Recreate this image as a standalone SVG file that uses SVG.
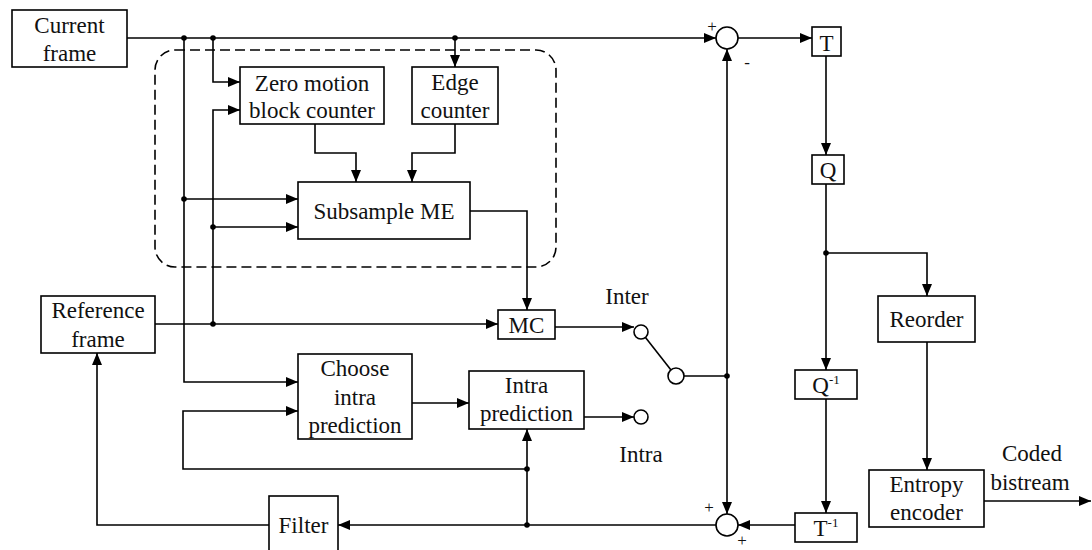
<svg xmlns="http://www.w3.org/2000/svg" width="1092" height="550" viewBox="0 0 1092 550" font-family="'Liberation Serif', 'Times New Roman', serif">
<defs>
<marker id="ah" markerUnits="userSpaceOnUse" markerWidth="14" markerHeight="10" refX="12" refY="5" orient="auto">
<path d="M0,0 L12,5 L0,10 Z" fill="#000"/>
</marker>
<style>
.box{fill:#fff;stroke:#000;stroke-width:1.6}
.c{fill:none;stroke:#000;stroke-width:1.6;marker-end:url(#ah)}
.l{fill:none;stroke:#000;stroke-width:1.6}
.dot{fill:#000}
.cir{fill:#fff;stroke:#000;stroke-width:1.6}
text{font-size:23px;fill:#111;text-anchor:middle}
.sg{font-size:17px}
.sup{font-size:13px}
.dash{fill:none;stroke:#000;stroke-width:1.6;stroke-dasharray:10,5}
</style>
</defs>
<rect width="1092" height="550" fill="#fff"/>
<rect class="dash" x="155" y="50" width="401" height="217" rx="20" ry="20"/>
<g id="connectors">
<path class="c" d="M127,38 H716"/>
<path class="c" d="M213,38 V82 H240"/>
<path class="c" d="M455,38 V67"/>
<path class="c" d="M184,38 V382 H298"/>
<path class="c" d="M184,199 H298"/>
<path class="c" d="M213,324 V110 H240"/>
<path class="c" d="M213,227 H298"/>
<path class="c" d="M155,324 H498"/>
<path class="c" d="M315,124 V153 H356 V182"/>
<path class="c" d="M455,124 V153 H412 V182"/>
<path class="c" d="M470,211 H527 V310"/>
<path class="c" d="M555,327 H634"/>
<path class="l" d="M645.5,337.5 L671,370"/>
<path class="l" d="M684,376 H727"/>
<path class="c" d="M727,376 V49"/>
<path class="c" d="M727,376 V514"/>
<path class="c" d="M738,38 H812"/>
<path class="c" d="M826,56 V155"/>
<path class="c" d="M826,184 V370"/>
<path class="c" d="M826,253 H927 V296"/>
<path class="c" d="M927,342 V470"/>
<path class="c" d="M984,501 H1091"/>
<path class="c" d="M826,399 V513"/>
<path class="c" d="M795,525 H738"/>
<path class="c" d="M716,525 H338"/>
<path class="c" d="M527,525 V429"/>
<path class="c" d="M527,469 H183 V411 H298"/>
<path class="c" d="M412,403 H469"/>
<path class="c" d="M584,417 H634"/>
<path class="c" d="M269,525 H97 V353"/>
<circle class="dot" cx="184" cy="38" r="2.8"/>
<circle class="dot" cx="213" cy="38" r="2.8"/>
<circle class="dot" cx="455" cy="38" r="2.8"/>
<circle class="dot" cx="184" cy="199" r="2.8"/>
<circle class="dot" cx="213" cy="227" r="2.8"/>
<circle class="dot" cx="213" cy="324" r="2.8"/>
<circle class="dot" cx="727" cy="376" r="2.8"/>
<circle class="dot" cx="826" cy="253" r="2.8"/>
<circle class="dot" cx="527" cy="525" r="2.8"/>
<circle class="dot" cx="527" cy="469" r="2.8"/>
</g>
<g id="current-frame"><rect class="box" x="12" y="10" width="115" height="57"/><text x="69.5" y="33">Current</text><text x="69.5" y="61">frame</text></g>
<g id="zero-motion"><rect class="box" x="240" y="67" width="144" height="57"/><text x="312" y="91">Zero motion</text><text x="312" y="118">block counter</text></g>
<g id="edge-counter"><rect class="box" x="412" y="67" width="86" height="57"/><text x="455" y="90">Edge</text><text x="455" y="118">counter</text></g>
<g id="subsample-me"><rect class="box" x="298" y="182" width="172" height="57"/><text x="384" y="219">Subsample ME</text></g>
<g id="reference-frame"><rect class="box" x="41" y="296" width="114" height="57"/><text x="98" y="318">Reference</text><text x="98" y="347">frame</text></g>
<g id="mc"><rect class="box" x="498" y="310" width="57" height="29"/><text x="526.5" y="333">MC</text></g>
<g id="choose-intra"><rect class="box" x="298" y="354" width="114" height="85"/><text x="355" y="376">Choose</text><text x="355" y="405">intra</text><text x="355" y="433">prediction</text></g>
<g id="intra-prediction"><rect class="box" x="469" y="371" width="115" height="58"/><text x="526.5" y="393">Intra</text><text x="526.5" y="421">prediction</text></g>
<g id="filter"><rect class="box" x="269" y="496" width="69" height="58"/><text x="303.5" y="533">Filter</text></g>
<g id="switch"><circle class="cir" cx="641" cy="332" r="7"/><circle class="cir" cx="676" cy="376" r="8"/><circle class="cir" cx="641" cy="417" r="7"/><text x="627" y="304">Inter</text><text x="641" y="462">Intra</text></g>
<g id="sum-top"><circle class="cir" cx="727" cy="38" r="11"/><text class="sg" x="712" y="32">+</text><text class="sg" x="747" y="68">-</text></g>
<g id="sum-bottom"><circle class="cir" cx="727" cy="525" r="11"/><text class="sg" x="709" y="513">+</text><text class="sg" x="742" y="546">+</text></g>
<g id="t"><rect class="box" x="812" y="27" width="29" height="29"/><text x="826.5" y="51">T</text></g>
<g id="q"><rect class="box" x="812" y="155" width="32" height="29"/><text x="828" y="178">Q</text></g>
<g id="q-inv"><rect class="box" x="795" y="370" width="62" height="29"/><text x="826" y="393">Q<tspan class="sup" dy="-9">-1</tspan></text></g>
<g id="t-inv"><rect class="box" x="795" y="513" width="62" height="29"/><text x="826" y="536">T<tspan class="sup" dy="-9">-1</tspan></text></g>
<g id="reorder"><rect class="box" x="878" y="296" width="97" height="46"/><text x="926.5" y="327">Reorder</text></g>
<g id="entropy"><rect class="box" x="869" y="470" width="115" height="57"/><text x="926.5" y="492">Entropy</text><text x="926.5" y="520">encoder</text></g>
<g id="output-label"><text x="1032" y="461">Coded</text><text x="1030" y="490">bistream</text></g>
</svg>
